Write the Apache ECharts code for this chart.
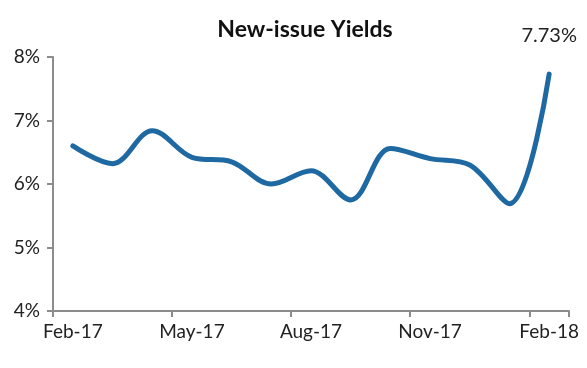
<!DOCTYPE html>
<html><head><meta charset="utf-8">
<script src="https://cdn.jsdelivr.net/npm/echarts@6/dist/echarts.min.js"></script>
<style>html,body{margin:0;padding:0;background:#fff}#c{width:587px;height:368px}</style>
</head><body><div id="c"></div>
<script>
const categories = ["Feb-17","Mar-17","Apr-17","May-17","Jun-17","Jul-17","Aug-17","Sep-17","Oct-17","Nov-17","Dec-17","Jan-18","Feb-18"];
const yields = [6.60, 6.32, 6.84, 6.42, 6.35, 6.00, 6.21, 5.75, 6.56, 6.40, 6.30, 5.69, 7.73];
const yTicks = [4, 5, 6, 7, 8];

const chart = echarts.init(document.getElementById('c'), null, {renderer: 'canvas'});
const lastIdx = yields.length - 1;
chart.setOption({
  animation: false,
  title: {
    text: 'New-issue Yields', left: 300, top: 13, textAlign: 'center',
    textStyle: {fontFamily: 'Lato', fontSize: 23, fontWeight: 'bold', color: '#111'}
  },
  grid: {left: 53, right: 18, top: 57, bottom: 57},
  xAxis: {
    type: 'category', data: categories, boundaryGap: true,
    axisLine: {lineStyle: {color: '#8c8c8c', width: 2}},
    axisTick: {show: true, interval: 2, length: 6, lineStyle: {color: '#8c8c8c', width: 2}},
    axisLabel: {interval: 2, fontFamily: 'Lato', fontSize: 19, color: '#222', margin: 11}
  },
  yAxis: {
    type: 'value', min: yTicks[0], max: yTicks[yTicks.length - 1], interval: 1,
    axisLine: {show: true, lineStyle: {color: '#8c8c8c', width: 2}},
    axisTick: {show: true, length: 6, lineStyle: {color: '#8c8c8c', width: 2}},
    splitLine: {show: false},
    axisLabel: {formatter: v => v + '%', fontFamily: 'Lato', fontSize: 19, color: '#222', margin: 13}
  },
  series: [{
    type: 'line', data: yields,
    smooth: 0.35, symbol: 'none', showSymbol: false,
    lineStyle: {color: '#1f69a3', width: 5, cap: 'round', join: 'round'},
    markPoint: {
      symbol: 'circle', symbolSize: 1,
      itemStyle: {color: 'rgba(0,0,0,0)'},
      data: [{coord: [lastIdx, yields[lastIdx]], value: yields[lastIdx]}],
      label: {show: true, position: 'top', distance: 28, formatter: p => p.value.toFixed(2) + '%',
        fontFamily: 'Lato', fontSize: 20, color: '#222'}
    }
  }]
});
</script></body></html>
